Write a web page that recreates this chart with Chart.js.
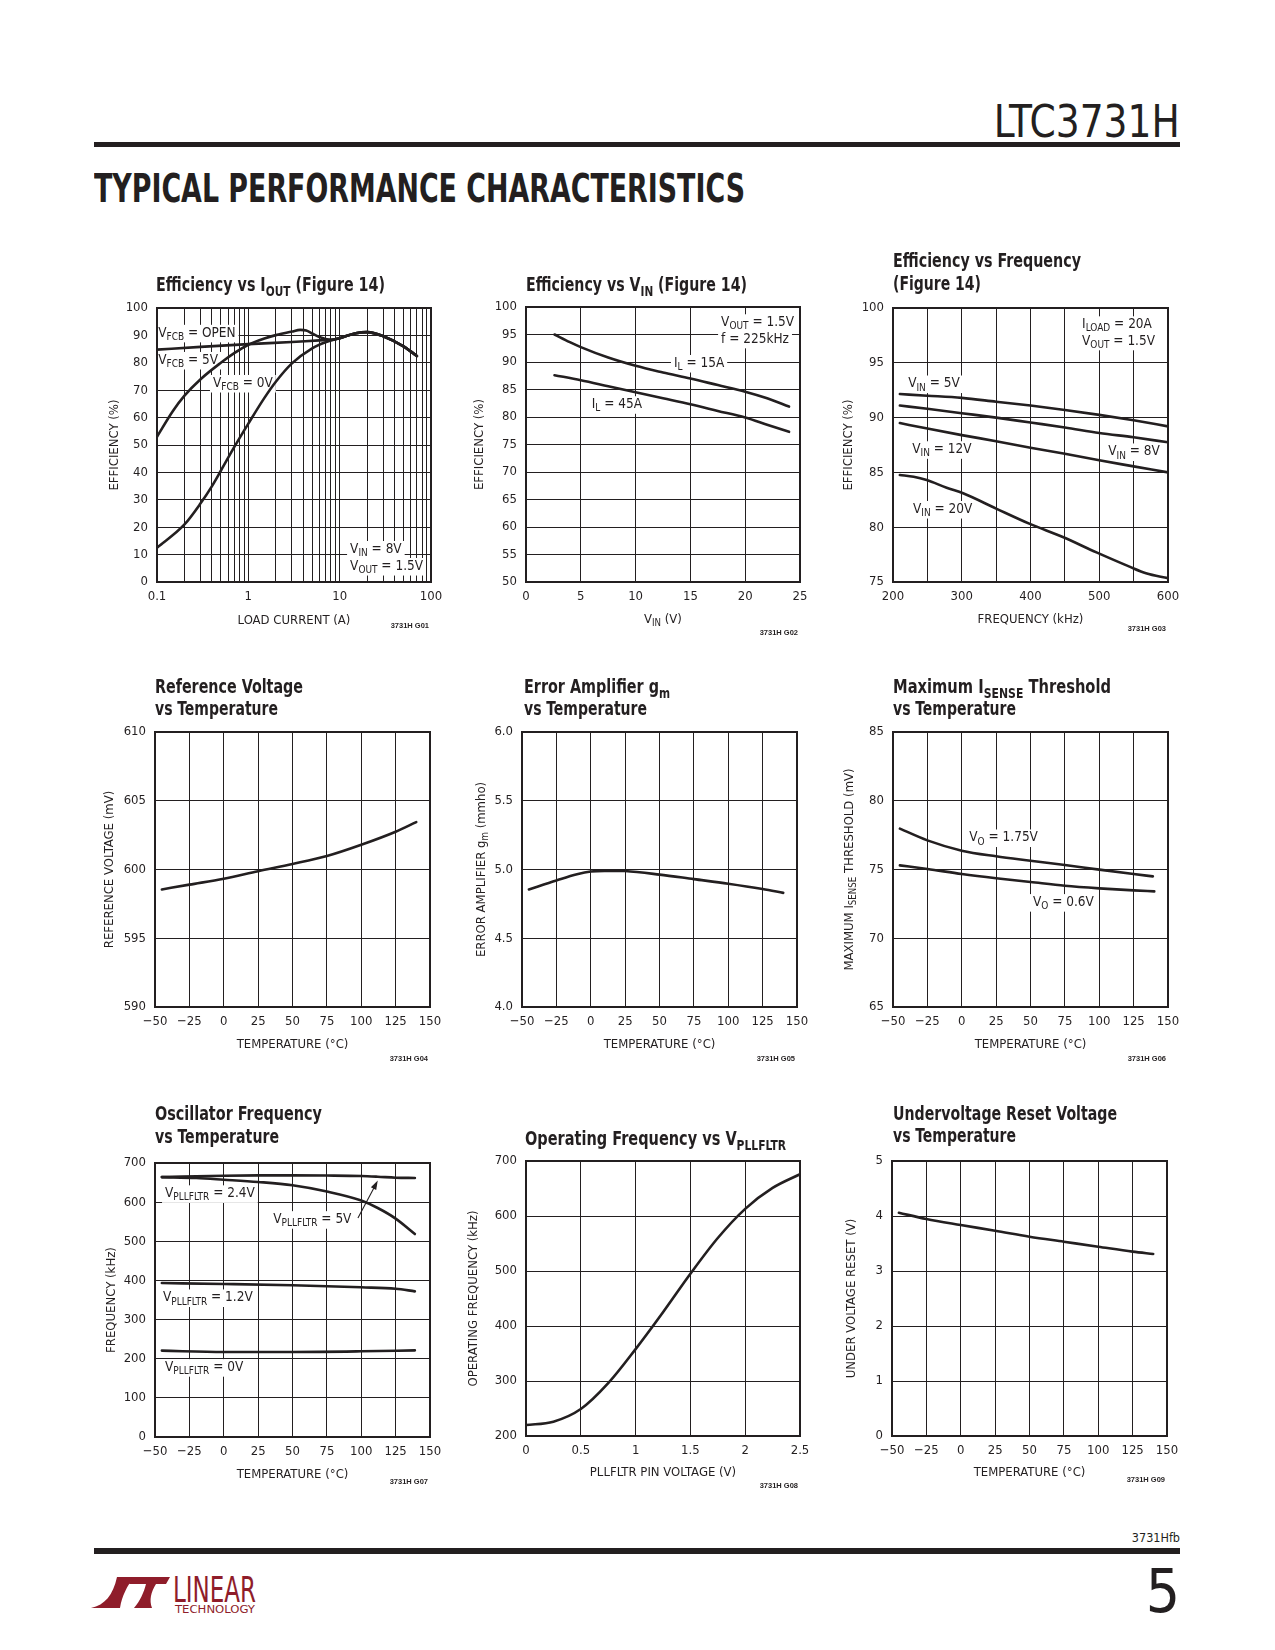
<!DOCTYPE html>
<html>
<head>
<meta charset="utf-8">
<script src="https://cdn.jsdelivr.net/npm/chart.js@4.4.1/dist/chart.umd.min.js"></script>
<style>
html,body{margin:0;padding:0;background:#fff;}
body{width:1275px;height:1650px;position:relative;overflow:hidden;}
canvas{position:absolute;}
.t{position:absolute;white-space:nowrap;color:#231f20;display:inline-block;}
.rule{position:absolute;background:#231f20;left:94px;width:1086px;}
</style>
</head>
<body>
<div class="t" id="hdr" style="right:95px;top:100px;font:44px 'Liberation Sans Narrow','DejaVu Sans Condensed',sans-serif;line-height:44px;">LTC3731H</div>
<div class="rule" style="top:142px;height:5px;"></div>
<div class="t" id="sec" style="left:94px;top:169px;font:bold 39px 'DejaVu Sans Condensed','DejaVu Sans',sans-serif;line-height:39px;">TYPICAL PERFORMANCE CHARACTERISTICS</div>
<div class="t" id="ftcode" style="right:95px;top:1531px;font:12.5px 'Liberation Sans Narrow','DejaVu Sans Condensed',sans-serif;line-height:13px;">3731Hfb</div>
<div class="rule" style="top:1548px;height:6px;"></div>
<div class="t" id="pg" style="right:95px;top:1561px;font:60px 'Liberation Sans Narrow','DejaVu Sans Condensed',sans-serif;line-height:60px;">5</div>
<svg style="position:absolute;left:88px;top:1574px;" width="172" height="42" viewBox="0 0 172 42">
  <path d="M29,3 L46,3 C39,12 34,22 32,34 L3,34 C17,31 25,21 29,3 Z" fill="#8f1d2a"/>
  <path d="M44,3 L82,3 L78,10 L68,10 C63,18 61,26 64,34 L46,34 C52,27 56,18 58,10 L41,10 Z" fill="#8f1d2a"/>
  <text x="85" y="28" font-family="'Liberation Sans Narrow','DejaVu Sans Condensed',sans-serif" font-size="35" fill="#8f1d2a" textLength="83" lengthAdjust="spacingAndGlyphs">LINEAR</text>
  <text x="87" y="38.5" font-family="'Liberation Sans Narrow','DejaVu Sans Condensed',sans-serif" font-size="11" fill="#8f1d2a" textLength="80" lengthAdjust="spacingAndGlyphs">TECHNOLOGY</text>
</svg>
<script>
const INK = '#231f20';
const NARROW = "'Liberation Sans Narrow','Arial Narrow','DejaVu Sans Condensed',sans-serif";

// ---------- shared temperature axis ----------
const tempGrid = [-50, -25, 0, 25, 50, 75, 100, 125, 150];
const tempLabels = ['\u221250', '\u221225', '0', '25', '50', '75', '100', '125', '150'];

// ---------- G01 Efficiency vs IOUT ----------
const g01XGrid = [0.1,0.2,0.3,0.4,0.5,0.6,0.7,0.8,0.9,1,2,3,4,5,6,7,8,9,10,20,30,40,50,60,70,80,90,100];
const g01XLabelVals = [0.1, 1, 10, 100];
const g01XLabels = ['0.1', '1', '10', '100'];
const g01YGrid = [0,10,20,30,40,50,60,70,80,90,100];
const g01YLabels = ['0','10','20','30','40','50','60','70','80','90','100'];
const g01OpenX = [0.1, 0.3, 1, 3, 6, 8, 10, 15, 20, 30, 50, 70];
const g01OpenY = [84.8, 85.8, 86.8, 87.6, 88.2, 88.4, 89.0, 90.8, 91.2, 89.7, 86.0, 82.5];
const g01V5X = [0.1, 0.15, 0.2, 0.3, 0.5, 0.7, 1, 1.5, 2, 3, 3.7, 4.3, 5, 6, 7, 8, 10, 15, 20, 30, 50, 70];
const g01V5Y = [53, 62.5, 68, 74, 80, 83.5, 86.6, 88.9, 90.1, 91.4, 92.0, 91.8, 90.7, 89.4, 88.7, 88.4, 89.0, 90.8, 91.2, 89.7, 86.0, 82.5];
const g01V0X = [0.1, 0.2, 0.3, 0.4, 0.5, 0.7, 1, 1.5, 2, 3, 5, 7, 10, 15, 20, 30, 50, 70];
const g01V0Y = [12.5, 21, 28.7, 35, 40.6, 49.2, 57.8, 67.2, 73.1, 79.8, 85.3, 87.5, 89.0, 90.8, 91.2, 89.7, 86.0, 82.5];

// ---------- G02 Efficiency vs VIN ----------
const g02XGrid = [0, 5, 10, 15, 20, 25];
const g02XLabels = ['0', '5', '10', '15', '20', '25'];
const g02YGrid = [50, 55, 60, 65, 70, 75, 80, 85, 90, 95, 100];
const g02YLabels = ['50','55','60','65','70','75','80','85','90','95','100'];
const g02I15X = [2.6, 4, 5, 7.5, 10, 12.5, 15, 17.5, 20, 22, 24];
const g02I15Y = [95, 93.6, 92.7, 90.8, 89.3, 88.1, 87, 85.8, 84.6, 83.4, 81.9];
const g02I45X = [2.6, 5, 7.5, 10, 12.5, 15, 17.5, 20, 22, 24];
const g02I45Y = [87.6, 86.7, 85.6, 84.5, 83.4, 82.3, 81.1, 79.9, 78.6, 77.3];

// ---------- G03 Efficiency vs Frequency ----------
const g03XGrid = [200, 250, 300, 350, 400, 450, 500, 550, 600];
const g03XLabelVals = [200, 300, 400, 500, 600];
const g03XLabels = ['200', '300', '400', '500', '600'];
const g03YGrid = [75, 80, 85, 90, 95, 100];
const g03YLabels = ['75', '80', '85', '90', '95', '100'];
const g03V5X = [210, 250, 300, 350, 400, 450, 500, 550, 600];
const g03V5Y = [92.15, 92.0, 91.8, 91.45, 91.1, 90.7, 90.25, 89.75, 89.2];
const g03V8X = [210, 250, 300, 350, 400, 450, 500, 550, 600];
const g03V8Y = [91.1, 90.8, 90.4, 90.0, 89.55, 89.1, 88.6, 88.2, 87.75];
const g03V12X = [210, 250, 300, 350, 400, 450, 500, 550, 600];
const g03V12Y = [89.5, 89.0, 88.4, 87.85, 87.25, 86.7, 86.1, 85.55, 85.0];
const g03V20X = [210, 230, 249, 278, 302, 350, 399, 447, 496, 544, 568, 600];
const g03V20Y = [84.76, 84.6, 84.3, 83.6, 83.1, 81.7, 80.3, 79.1, 77.7, 76.4, 75.8, 75.35];

// ---------- G04 Reference Voltage vs Temperature ----------
const g04YGrid = [590, 595, 600, 605, 610];
const g04YLabels = ['590', '595', '600', '605', '610'];
const g04X = [-45, -25, 0, 25, 50, 75, 100, 125, 140];
const g04Y = [598.55, 598.9, 599.33, 599.88, 600.4, 600.98, 601.8, 602.75, 603.45];

// ---------- G05 Error Amplifier gm vs Temperature ----------
const g05YGrid = [4.0, 4.5, 5.0, 5.5, 6.0];
const g05YLabels = ['4.0', '4.5', '5.0', '5.5', '6.0'];
const g05X = [-45, -25, -10, 0, 10, 20, 25, 50, 75, 100, 125, 140];
const g05Y = [4.855, 4.92, 4.965, 4.985, 4.99, 4.99, 4.989, 4.963, 4.93, 4.897, 4.858, 4.83];

// ---------- G06 Maximum ISENSE Threshold vs Temperature ----------
const g06YGrid = [65, 70, 75, 80, 85];
const g06YLabels = ['65', '70', '75', '80', '85'];
const g06V175X = [-45, -25, 0, 25, 50, 75, 100, 125, 139];
const g06V175Y = [77.97, 77.12, 76.37, 75.96, 75.64, 75.33, 74.99, 74.67, 74.5];
const g06V06X = [-45, -25, 0, 25, 50, 75, 100, 125, 140];
const g06V06Y = [75.3, 75.04, 74.67, 74.36, 74.09, 73.82, 73.63, 73.48, 73.41];

// ---------- G07 Oscillator Frequency vs Temperature ----------
const g07YGrid = [0, 100, 200, 300, 400, 500, 600, 700];
const g07YLabels = ['0', '100', '200', '300', '400', '500', '600', '700'];
const g07V5X = [-45, 0, 25, 50, 75, 100, 112, 125, 139];
const g07V5Y = [664, 667.5, 668.3, 668.5, 668, 666.8, 665, 662.5, 661.7];
const g07V24X = [-45, -20, 0, 25, 50, 75, 100, 112, 125, 139];
const g07V24Y = [664, 661.7, 657.4, 651.5, 643, 627, 604, 585, 558, 518.6];
const g07V12X = [-45, 0, 50, 100, 125, 139];
const g07V12Y = [393.4, 390.9, 387.5, 382.4, 378.9, 372.1];
const g07V0X = [-45, 0, 50, 100, 139];
const g07V0Y = [220.6, 217.2, 217.2, 218.9, 221.4];

// ---------- G08 Operating Frequency vs VPLLFLTR ----------
const g08XGrid = [0, 0.5, 1, 1.5, 2, 2.5];
const g08XLabels = ['0', '0.5', '1', '1.5', '2', '2.5'];
const g08YGrid = [200, 300, 400, 500, 600, 700];
const g08YLabels = ['200', '300', '400', '500', '600', '700'];
const g08X = [0, 0.25, 0.5, 0.75, 1, 1.25, 1.5, 1.75, 2, 2.25, 2.5];
const g08Y = [220, 226, 249, 296, 358, 425, 495, 560, 613, 651, 676];

// ---------- G09 Undervoltage Reset vs Temperature ----------
const g09YGrid = [0, 1, 2, 3, 4, 5];
const g09YLabels = ['0', '1', '2', '3', '4', '5'];
const g09X = [-45, -25, 0, 25, 50, 75, 100, 125, 140];
const g09Y = [4.06, 3.945, 3.836, 3.733, 3.624, 3.533, 3.442, 3.352, 3.31];

// ================= drawing helpers =================
function parseRich(s) {
  const out = []; const re = /_\{([^}]*)\}/g; let last = 0, m;
  while ((m = re.exec(s))) {
    if (m.index > last) out.push({t: s.slice(last, m.index)});
    out.push({t: m[1], sub: true}); last = re.lastIndex;
  }
  if (last < s.length) out.push({t: s.slice(last)});
  return out;
}
function drawRich(ctx, str, x, y, o) {
  const segs = parseRich(str);
  const size = o.size, wt = o.weight || 'normal', fam = o.family || NARROW;
  const f = sub => `${wt} ${sub ? size * 0.74 : size}px ${fam}`;
  let w = 0;
  for (const s of segs) { ctx.font = f(s.sub); s.w = ctx.measureText(s.t).width; w += s.w; }
  const sx = o.fitW ? o.fitW / w : 1;
  const Wd = w * sx;
  ctx.save();
  ctx.translate(x, y);
  if (o.rot) ctx.rotate(o.rot);
  const x0 = o.align === 'right' ? -Wd : o.align === 'center' ? -Wd / 2 : 0;
  const base = o.vc ? size * 0.36 : 0;
  if (o.bg) { ctx.fillStyle = '#fff'; ctx.fillRect(x0 - 3, base - size * 0.88, Wd + 6, size * 1.3); }
  ctx.translate(x0, base); ctx.scale(sx, 1);
  ctx.fillStyle = INK; ctx.textBaseline = 'alphabetic'; ctx.textAlign = 'left';
  let cx = 0;
  for (const s of segs) { ctx.font = f(s.sub); ctx.fillText(s.t, cx, s.sub ? size * 0.24 : 0); cx += s.w; }
  ctx.restore();
}
function labelFor(vals, labels, v) {
  for (let i = 0; i < vals.length; i++) if (Math.abs(vals[i] - v) <= 1e-9 * Math.max(1, Math.abs(v))) return labels[i];
  return '';
}
const pairs = (xs, ys) => xs.map((x, i) => ({x: x, y: ys[i]}));

const decorMap = new WeakMap();
const PADL = 80, PADT = 75, PADR = 24, PADB = 62;
Chart.register({
  id: 'decor',
  beforeDatasetsDraw(chart) {
    const d = decorMap.get(chart.canvas); if (!d) return;
    const c = chart.ctx, X = chart.scales.x, Y = chart.scales.y;
    for (const n of (d.notes || [])) drawRich(c, n.t, X.getPixelForValue(n.x), Y.getPixelForValue(n.y), {size: 13.5, vc: true, bg: true});
  },
  afterDraw(chart) {
    const d = decorMap.get(chart.canvas); if (!d) return;
    const c = chart.ctx, ca = chart.chartArea, X = chart.scales.x, Y = chart.scales.y;
    c.save(); c.strokeStyle = INK; c.lineWidth = 2;
    c.strokeRect(ca.left, ca.top, ca.right - ca.left, ca.bottom - ca.top); c.restore();
    for (const a of (d.arrows || [])) {
      const x1 = X.getPixelForValue(a.x1), y1 = Y.getPixelForValue(a.y1);
      const x2 = X.getPixelForValue(a.x2), y2 = Y.getPixelForValue(a.y2);
      const ang = Math.atan2(y2 - y1, x2 - x1);
      c.save(); c.strokeStyle = INK; c.fillStyle = INK; c.lineWidth = 1.1;
      c.beginPath(); c.moveTo(x1, y1); c.lineTo(x2 - 6 * Math.cos(ang), y2 - 6 * Math.sin(ang)); c.stroke();
      c.beginPath(); c.moveTo(x2, y2);
      c.lineTo(x2 - 9 * Math.cos(ang) + 3 * Math.sin(ang), y2 - 9 * Math.sin(ang) - 3 * Math.cos(ang));
      c.lineTo(x2 - 9 * Math.cos(ang) - 3 * Math.sin(ang), y2 - 9 * Math.sin(ang) + 3 * Math.cos(ang));
      c.closePath(); c.fill(); c.restore();
    }
    const ox = d.box.L - PADL, oy = d.box.T - PADT;
    for (const t of d.titles) drawRich(c, t.t, t.x - ox, t.y - oy, {size: 20, weight: 'bold', fitW: t.w});
    drawRich(c, d.yTitle, ca.left - d.yOff, (ca.top + ca.bottom) / 2, {size: 13, rot: -Math.PI / 2, align: 'center', vc: true});
    drawRich(c, d.xTitle, (ca.left + ca.right) / 2, ca.bottom + d.xOff, {size: 13, align: 'center', vc: true});
    drawRich(c, '3731H ' + d.code, ca.right - 2, ca.bottom + d.codeOff, {size: 7.5, weight: 'bold', family: "'Liberation Sans',Arial,sans-serif", align: 'right', vc: true});
  }
});

function makeChart(s) {
  const {L, T, R, B} = s.box;
  const W = R - L + PADL + PADR, H = B - T + PADT + PADB;
  const cv = document.createElement('canvas');
  cv.width = W; cv.height = H;
  cv.style.left = (L - PADL) + 'px'; cv.style.top = (T - PADT) + 'px';
  cv.style.width = W + 'px'; cv.style.height = H + 'px';
  document.body.appendChild(cv);
  decorMap.set(cv, s);
  const tickFont = {family: NARROW, size: 13};
  new Chart(cv, {
    type: 'line',
    data: {datasets: s.series.map(d => ({
      data: pairs(d[0], d[1]), borderColor: INK, borderWidth: 2.6, pointRadius: 0,
      cubicInterpolationMode: 'monotone', fill: false, borderCapStyle: 'round'
    }))},
    options: {
      responsive: false, animation: false, devicePixelRatio: 1, events: [],
      layout: {padding: {left: 0, top: PADT, right: PADR, bottom: 0}},
      plugins: {legend: {display: false}, tooltip: {enabled: false}, title: {display: false}},
      scales: {
        x: {
          type: s.xType || 'linear', min: s.xGrid[0], max: s.xGrid[s.xGrid.length - 1],
          afterFit(sc) { sc.height = PADB; },
          afterBuildTicks(sc) { sc.ticks = s.xGrid.map(v => ({value: v})); },
          ticks: {autoSkip: false, maxRotation: 0, minRotation: 0, padding: 7, font: tickFont, color: INK,
                  callback: v => labelFor(s.xLabVals, s.xLabs, v)},
          grid: {color: INK, lineWidth: 1, drawTicks: false},
          border: {display: false}
        },
        y: {
          type: 'linear', min: s.yGrid[0], max: s.yGrid[s.yGrid.length - 1],
          afterFit(sc) { sc.width = PADL; },
          afterBuildTicks(sc) { sc.ticks = s.yGrid.map(v => ({value: v})); },
          ticks: {autoSkip: false, padding: 9, font: tickFont, color: INK,
                  callback: v => labelFor(s.yGrid, s.yLabs, v)},
          grid: {color: INK, lineWidth: 1, drawTicks: false},
          border: {display: false}
        }
      }
    }
  });
}

const specs = [
  {box: {L: 157, T: 308, R: 431, B: 582}, xType: 'logarithmic',
   xGrid: g01XGrid, xLabVals: g01XLabelVals, xLabs: g01XLabels, yGrid: g01YGrid, yLabs: g01YLabels,
   series: [[g01OpenX, g01OpenY], [g01V5X, g01V5Y], [g01V0X, g01V0Y]],
   titles: [{t: 'Efficiency vs I_{OUT} (Figure 14)', x: 156, y: 291, w: 229}],
   yTitle: 'EFFICIENCY (%)', yOff: 44, xTitle: 'LOAD CURRENT (A)', xOff: 37, code: 'G01', codeOff: 43,
   notes: [{t: 'V_{FCB} = OPEN', x: 0.103, y: 91.3}, {t: 'V_{FCB} = 5V', x: 0.103, y: 81.4},
           {t: 'V_{FCB} = 0V', x: 0.41, y: 73}, {t: 'V_{IN} = 8V', x: 13, y: 12.4}, {t: 'V_{OUT} = 1.5V', x: 13, y: 6.2}]},
  {box: {L: 526, T: 307, R: 800, B: 582},
   xGrid: g02XGrid, xLabVals: g02XGrid, xLabs: g02XLabels, yGrid: g02YGrid, yLabs: g02YLabels,
   series: [[g02I15X, g02I15Y], [g02I45X, g02I45Y]],
   titles: [{t: 'Efficiency vs V_{IN} (Figure 14)', x: 526, y: 291, w: 221}],
   yTitle: 'EFFICIENCY (%)', yOff: 48, xTitle: 'V_{IN} (V)', xOff: 36, code: 'G02', codeOff: 50,
   notes: [{t: 'V_{OUT} = 1.5V', x: 17.8, y: 97.4}, {t: 'f = 225kHz', x: 17.8, y: 94.4},
           {t: 'I_{L} = 15A', x: 13.5, y: 90}, {t: 'I_{L} = 45A', x: 6.0, y: 82.5}]},
  {box: {L: 893, T: 308, R: 1168, B: 582},
   xGrid: g03XGrid, xLabVals: g03XLabelVals, xLabs: g03XLabels, yGrid: g03YGrid, yLabs: g03YLabels,
   series: [[g03V5X, g03V5Y], [g03V8X, g03V8Y], [g03V12X, g03V12Y], [g03V20X, g03V20Y]],
   titles: [{t: 'Efficiency vs Frequency', x: 893, y: 267, w: 188}, {t: '(Figure 14)', x: 893, y: 290, w: 88}],
   yTitle: 'EFFICIENCY (%)', yOff: 46, xTitle: 'FREQUENCY (kHz)', xOff: 36, code: 'G03', codeOff: 46,
   notes: [{t: 'I_{LOAD} = 20A', x: 475, y: 98.6}, {t: 'V_{OUT} = 1.5V', x: 475, y: 97.1},
           {t: 'V_{IN} = 5V', x: 222, y: 93.2}, {t: 'V_{IN} = 12V', x: 228, y: 87.2},
           {t: 'V_{IN} = 8V', x: 513, y: 87.0}, {t: 'V_{IN} = 20V', x: 229, y: 81.75}]},
  {box: {L: 155, T: 732, R: 430, B: 1007},
   xGrid: tempGrid, xLabVals: tempGrid, xLabs: tempLabels, yGrid: g04YGrid, yLabs: g04YLabels,
   series: [[g04X, g04Y]],
   titles: [{t: 'Reference Voltage', x: 155, y: 693, w: 148}, {t: 'vs Temperature', x: 155, y: 715, w: 123}],
   yTitle: 'REFERENCE VOLTAGE (mV)', yOff: 47, xTitle: 'TEMPERATURE (\u00B0C)', xOff: 36, code: 'G04', codeOff: 51, notes: []},
  {box: {L: 522, T: 732, R: 797, B: 1007},
   xGrid: tempGrid, xLabVals: tempGrid, xLabs: tempLabels, yGrid: g05YGrid, yLabs: g05YLabels,
   series: [[g05X, g05Y]],
   titles: [{t: 'Error Amplifier g_{m}', x: 524, y: 693, w: 146}, {t: 'vs Temperature', x: 524, y: 715, w: 123}],
   yTitle: 'ERROR AMPLIFIER g_{m} (mmho)', yOff: 42, xTitle: 'TEMPERATURE (\u00B0C)', xOff: 36, code: 'G05', codeOff: 51, notes: []},
  {box: {L: 893, T: 732, R: 1168, B: 1007},
   xGrid: tempGrid, xLabVals: tempGrid, xLabs: tempLabels, yGrid: g06YGrid, yLabs: g06YLabels,
   series: [[g06V175X, g06V175Y], [g06V06X, g06V06Y]],
   titles: [{t: 'Maximum I_{SENSE} Threshold', x: 893, y: 693, w: 218}, {t: 'vs Temperature', x: 893, y: 715, w: 123}],
   yTitle: 'MAXIMUM I_{SENSE} THRESHOLD (mV)', yOff: 45, xTitle: 'TEMPERATURE (\u00B0C)', xOff: 36, code: 'G06', codeOff: 51,
   notes: [{t: 'V_{O} = 1.75V', x: 5.5, y: 77.4}, {t: 'V_{O} = 0.6V', x: 51.8, y: 72.7}]},
  {box: {L: 155, T: 1163, R: 430, B: 1437},
   xGrid: tempGrid, xLabVals: tempGrid, xLabs: tempLabels, yGrid: g07YGrid, yLabs: g07YLabels,
   series: [[g07V5X, g07V5Y], [g07V24X, g07V24Y], [g07V12X, g07V12Y], [g07V0X, g07V0Y]],
   titles: [{t: 'Oscillator Frequency', x: 155, y: 1120, w: 167}, {t: 'vs Temperature', x: 155, y: 1143, w: 124}],
   yTitle: 'FREQUENCY (kHz)', yOff: 45, xTitle: 'TEMPERATURE (\u00B0C)', xOff: 36, code: 'G07', codeOff: 44,
   notes: [{t: 'V_{PLLFLTR} = 2.4V', x: -42.7, y: 625}, {t: 'V_{PLLFLTR} = 5V', x: 36, y: 559},
           {t: 'V_{PLLFLTR} = 1.2V', x: -44.2, y: 359}, {t: 'V_{PLLFLTR} = 0V', x: -42.7, y: 181}],
   arrows: [{x1: 97.6, y1: 559.5, x2: 112, y2: 655}]},
  {box: {L: 526, T: 1161, R: 800, B: 1436},
   xGrid: g08XGrid, xLabVals: g08XGrid, xLabs: g08XLabels, yGrid: g08YGrid, yLabs: g08YLabels,
   series: [[g08X, g08Y]],
   titles: [{t: 'Operating Frequency vs V_{PLLFLTR}', x: 525, y: 1145, w: 261}],
   yTitle: 'OPERATING FREQUENCY (kHz)', yOff: 54, xTitle: 'PLLFLTR PIN VOLTAGE (V)', xOff: 35, code: 'G08', codeOff: 49, notes: []},
  {box: {L: 892, T: 1161, R: 1167, B: 1436},
   xGrid: tempGrid, xLabVals: tempGrid, xLabs: tempLabels, yGrid: g09YGrid, yLabs: g09YLabels,
   series: [[g09X, g09Y]],
   titles: [{t: 'Undervoltage Reset Voltage', x: 893, y: 1120, w: 224}, {t: 'vs Temperature', x: 893, y: 1142, w: 123}],
   yTitle: 'UNDER VOLTAGE RESET (V)', yOff: 42, xTitle: 'TEMPERATURE (\u00B0C)', xOff: 35, code: 'G09', codeOff: 43, notes: []}
];
specs.forEach(makeChart);

function fitText(id, w, origin) {
  const el = document.getElementById(id);
  const r = el.getBoundingClientRect().width;
  el.style.transformOrigin = origin;
  el.style.transform = 'scaleX(' + (w / r) + ')';
}
fitText('hdr', 186, 'right center');
fitText('sec', 651, 'left center');
</script>
</body>
</html>
